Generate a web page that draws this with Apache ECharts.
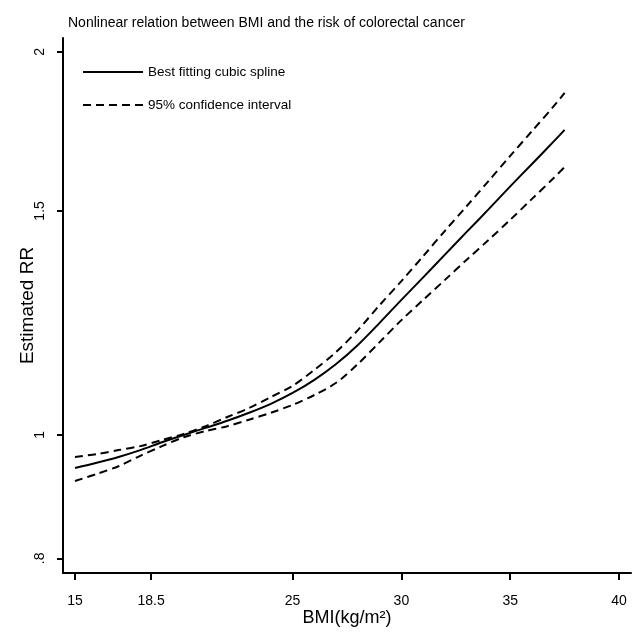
<!DOCTYPE html>
<html>
<head>
<meta charset="utf-8">
<script src="https://cdn.jsdelivr.net/npm/echarts@6/dist/echarts.min.js"></script>
<style>
    html, body { margin: 0; padding: 0; background: #fff; }
    #bmiRiskArea { width: 636px; height: 632px; }
</style>
</head>
<body>
<div id="bmiRiskArea"></div>
<script>
// BMI 取值点
var bmiList = [15, 16, 17, 18, 19, 20, 21, 22, 23, 24, 25, 26, 27, 28, 29, 30, 31, 32, 33, 34, 35, 36, 37, 37.5];
// 最佳拟合样条 RR
var rrList = [0.942, 0.951, 0.961, 0.973, 0.987, 1.000, 1.013, 1.026, 1.041, 1.058, 1.079, 1.105,
    1.137, 1.177, 1.225, 1.277, 1.330, 1.386, 1.444, 1.504, 1.568, 1.633, 1.701, 1.737];
// 95% 置信区间 上限
var upperList = [0.961, 0.966, 0.973, 0.980, 0.991, 1.002, 1.016, 1.033, 1.050, 1.071, 1.093, 1.125,
    1.162, 1.209, 1.265, 1.321, 1.382, 1.447, 1.513, 1.583, 1.657, 1.733, 1.813, 1.857];
// 95% 置信区间 下限
var lowerList = [0.920, 0.932, 0.945, 0.963, 0.980, 0.996, 1.007, 1.016, 1.028, 1.041, 1.056, 1.075,
    1.099, 1.137, 1.183, 1.231, 1.277, 1.324, 1.373, 1.423, 1.476, 1.533, 1.592, 1.624];
// 刻度
var xTicks = [15, 18.5, 25, 30, 35, 40];
var yTicks = [0.8, 1, 1.5, 2];

var textFont = "'Liberation Sans', Arial, sans-serif";

function toPairs(xs, ys) {
    var out = [];
    for (var i = 0; i < xs.length; i++) {
        out.push([xs[i], ys[i]]);
    }
    return out;
}

var bmiRiskArea = document.getElementById('bmiRiskArea');
if (null != bmiRiskArea && 'undefined' != typeof(bmiRiskArea)) {
    var mainChart = echarts.init(bmiRiskArea, null, {renderer: 'canvas'});
    mainChart.clear();

    var dashStyle = {color: '#000', width: 2, type: [8, 5]};

    var option = {
        backgroundColor: '#fff',
        animation: false,
        title: {
            text: 'Nonlinear relation between BMI and the risk of colorectal cancer',
            left: 63,
            top: 11,
            textStyle: {fontFamily: textFont, fontSize: 14, fontWeight: 'normal', color: '#000'}
        },
        legend: {
            orient: 'vertical',
            left: 77,
            top: 60,
            itemWidth: 60,
            itemHeight: 14,
            itemGap: 19,
            // 隐藏图例里的圆点，只留线
            itemStyle: {opacity: 0},
            data: ['Best fitting cubic spline', '95% confidence interval'],
            textStyle: {fontFamily: textFont, fontSize: 13.5, color: '#000'}
        },
        grid: {left: 63, right: 5, top: 38, bottom: 59, outerBoundsMode: 'none'},
        xAxis: {
            type: 'value',
            min: 14.45,
            max: 40.55,
            name: 'BMI(kg/m\u00B2)',
            nameLocation: 'middle',
            nameGap: 36,
            nameMoveOverlap: false,
            nameTextStyle: {fontFamily: textFont, fontSize: 18, color: '#000'},
            axisLine: {lineStyle: {color: '#000', width: 2}},
            axisTick: {length: 7, lineStyle: {color: '#000', width: 2}, customValues: xTicks},
            axisLabel: {color: '#000', fontFamily: textFont, fontSize: 14, margin: 21, customValues: xTicks},
            splitLine: {show: false}
        },
        yAxis: {
            type: 'log',
            logBase: 10,
            min: 0.779,
            max: 2.051,
            name: 'Estimated RR',
            nameLocation: 'middle',
            nameRotate: 90,
            nameGap: 26,
            nameMoveOverlap: false,
            nameTextStyle: {fontFamily: textFont, fontSize: 19, color: '#000'},
            axisLine: {show: true, lineStyle: {color: '#000', width: 2}},
            axisTick: {show: true, length: 6, lineStyle: {color: '#000', width: 2}, customValues: yTicks},
            axisLabel: {
                color: '#000', fontFamily: textFont, fontSize: 14, rotate: 90, margin: 16,
                customValues: yTicks,
                formatter: function (v) {
                    if (Math.abs(v - 0.8) < 1e-6) return '.8';
                    return String(Math.round(v * 10) / 10);
                }
            },
            splitLine: {show: false}
        },
        series: [
            {
                name: 'Best fitting cubic spline',
                type: 'line',
                data: toPairs(bmiList, rrList),
                smooth: 0.3,
                symbol: 'none',
                lineStyle: {color: '#000', width: 2},
                itemStyle: {color: '#000'}
            },
            {
                name: '95% confidence interval',
                type: 'line',
                data: toPairs(bmiList, upperList),
                smooth: 0.3,
                symbol: 'none',
                lineStyle: dashStyle,
                itemStyle: {color: '#000'}
            },
            {
                name: '95% confidence interval',
                type: 'line',
                data: toPairs(bmiList, lowerList),
                smooth: 0.3,
                symbol: 'none',
                lineStyle: dashStyle,
                itemStyle: {color: '#000'}
            }
        ]
    };

    mainChart.setOption(option);
}
</script>
</body>
</html>
